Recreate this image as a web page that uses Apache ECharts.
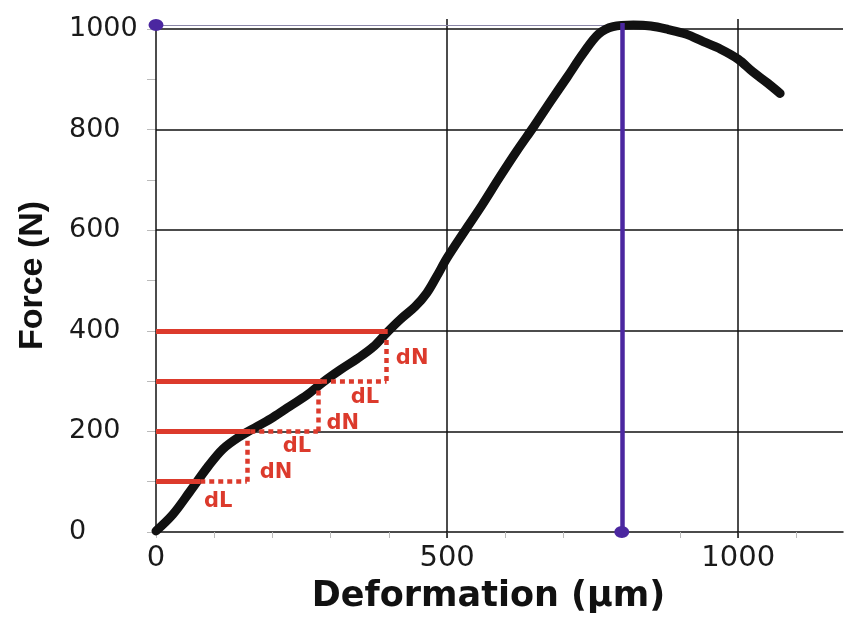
<!DOCTYPE html>
<html><head><meta charset="utf-8">
<script src="https://cdn.jsdelivr.net/npm/echarts@6/dist/echarts.min.js"></script>
<style>html,body{margin:0;padding:0;background:#fff;overflow:hidden}#c{width:844px;height:619px}</style>
</head><body><div id="c"></div>
<script>
// Load-deformation curve (µm, N)
const deformation = [0,29,58,88,115,144,174,201,230,259,287,316,345,373,397,420,445,465,482,500,530,560,590,620,650,677,706,734,760,785,820,850,880,910,940,970,1000,1025,1050,1072];
const force       = [2,35,80,128,165,190,210,228,250,272,298,322,344,368,397,423,448,475,508,545,598,650,705,758,808,855,904,952,990,1005,1008,1006,999,990,975,960,940,915,893,872];

const peakDeformation = 800;
const peakForce = 1008;
const peakLineTop = 1012;

// step construction (dN / dL)
const stepLevels = [100, 200, 300, 400];
const stepSolidEnd = [76, 162, 285, 398];
const stepNextX = [156, 278, 396];
const stepLabels = [
  [107, 61, 'dL'], [206, 118, 'dN'],
  [242, 169, 'dL'], [321, 216, 'dN'],
  [359, 267, 'dL'], [440, 345, 'dN']
];

const xLabelValues = [0, 500, 1000];
const yLabelValues = [0, 200, 400, 600, 800, 1000];
const xTickValues = [0,100,200,300,400,500,600,700,800,900,1000,1100];
const yTickValues = [0,100,200,300,400,500,600,700,800,900,1000];
const xGridValues = [500, 1000];
const yGridValues = [200, 400, 600, 800, 1000];
const xMax = 1180, yMax = 1020;

const RED = '#dc3a2c', PURPLE = '#4b27a0';

const solidRed = stepLevels.map((lv, i) => ({coords: [[0, lv], [stepSolidEnd[i], lv]]}));
const dottedRed = [];
for (let i = 0; i < stepNextX.length; i++) {
  dottedRed.push({coords: [[stepSolidEnd[i], stepLevels[i]], [stepNextX[i], stepLevels[i]]]});
  dottedRed.push({coords: [[stepNextX[i], stepLevels[i]], [stepNextX[i], stepLevels[i + 1] - 14]]});
}
const gridLines = [];
yGridValues.forEach(v => gridLines.push({coords: [[0, v], [xMax, v]]}));
xGridValues.forEach(v => gridLines.push({coords: [[v, -12], [v, yMax]]}));
gridLines.push({coords: [[0, 0], [0, 1000]]});

const chart = echarts.init(document.getElementById('c'));
chart.setOption({
  animation: false,
  backgroundColor: '#fff',
  grid: {left: 156, right: 1, top: 19, bottom: 80, containLabel: false},
  xAxis: {
    type: 'value', min: 0, max: xMax,
    name: 'Deformation (µm)', nameLocation: 'middle', nameGap: 47,
    nameTextStyle: {fontFamily: 'DejaVu Sans', fontWeight: 'bold', fontSize: 35, color: '#111', lineHeight: 35, padding: [0, 22, 0, 0]},
    axisLine: {show: true, lineStyle: {color: '#111', width: 1.5}},
    axisTick: {show: true, customValues: xTickValues, length: 6, lineStyle: {color: '#bbb', width: 1}},
    axisLabel: {customValues: xLabelValues, formatter: v => String(v), margin: 12, fontFamily: 'DejaVu Sans', fontSize: 29, color: '#1a1a1a', lineHeight: 29},
    splitLine: {show: false}
  },
  yAxis: {
    type: 'value', min: 0, max: yMax,
    name: 'Force (N)', nameLocation: 'middle', nameGap: 106, nameRotate: 90,
    nameTextStyle: {fontFamily: 'Liberation Sans', fontWeight: 'bold', fontSize: 34, color: '#111'},
    axisLine: {show: false},
    axisTick: {show: true, customValues: yTickValues, length: 9, lineStyle: {color: '#bbb', width: 1}},
    axisLabel: {customValues: yLabelValues, formatter: v => String(v), margin: 87, align: 'left', fontFamily: 'DejaVu Sans', fontSize: 27, color: '#1a1a1a'},
    splitLine: {show: false}
  },
  series: [
    {type: 'lines', coordinateSystem: 'cartesian2d', polyline: false, clip: false, silent: true, z: 1,
     lineStyle: {color: '#111', width: 1.5, opacity: 1}, data: gridLines},
    {type: 'lines', coordinateSystem: 'cartesian2d', silent: true, z: 2,
     lineStyle: {color: '#8a86a8', width: 1, opacity: 1},
     data: [{coords: [[0, peakForce], [peakDeformation, peakForce]]}]},
    {type: 'line', data: deformation.map((d, i) => [d, force[i]]), smooth: 0.35, showSymbol: false, z: 3,
     lineStyle: {color: '#111', width: 9, cap: 'round', join: 'round'}},
    {type: 'lines', coordinateSystem: 'cartesian2d', silent: true, z: 4,
     lineStyle: {color: RED, width: 5, opacity: 1}, data: solidRed},
    {type: 'lines', coordinateSystem: 'cartesian2d', silent: true, z: 4,
     lineStyle: {color: RED, width: 4.5, opacity: 1, type: [5, 4]}, data: dottedRed},
    {type: 'lines', coordinateSystem: 'cartesian2d', silent: true, z: 5,
     lineStyle: {color: PURPLE, width: 4.5, opacity: 1},
     data: [{coords: [[peakDeformation, 0], [peakDeformation, peakLineTop]]}]},
    {type: 'scatter', symbol: 'circle', symbolSize: [15, 12], z: 6, clip: false,
     itemStyle: {color: PURPLE, opacity: 1}, data: [[0, peakForce], [peakDeformation, 0]]},
    {type: 'scatter', symbolSize: 0, z: 7, silent: true,
     itemStyle: {opacity: 1},
     data: stepLabels.map(s => ({value: [s[0], s[1]], name: s[2]})),
     label: {show: true, position: 'inside', formatter: p => p.name, opacity: 1,
       fontFamily: 'DejaVu Sans', fontWeight: 'bold', fontSize: 21, color: RED}}
  ]
});
</script></body></html>
